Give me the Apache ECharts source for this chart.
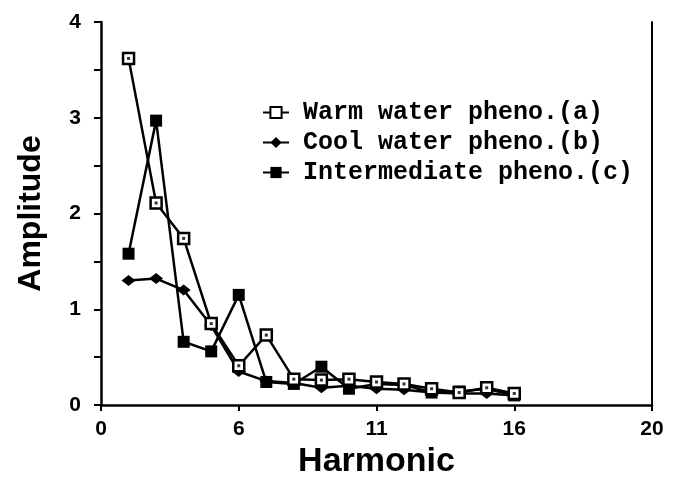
<!DOCTYPE html>
<html>
<head>
<meta charset="utf-8">
<script src="https://cdn.jsdelivr.net/npm/echarts@6/dist/echarts.min.js"></script>
<style>
html,body{margin:0;padding:0;background:#fff;}
#chart{width:685px;height:478px;}
</style>
</head>
<body>
<div id="chart"></div>
<script>
// harmonic positions on the axis
const harmonics = [1, 2, 3, 4, 5, 6, 7, 8, 9, 10, 11, 12, 13, 14, 15]
const warmWater = [3.62, 2.11, 1.74, 0.85, 0.41, 0.73, 0.27, 0.26, 0.27, 0.24, 0.22, 0.17, 0.13, 0.18, 0.12]
const coolWater = [1.30, 1.32, 1.20, 0.83, 0.35, 0.25, 0.23, 0.18, 0.20, 0.17, 0.16, 0.13, 0.12, 0.12, 0.10]
const intermediate = [1.58, 2.97, 0.66, 0.56, 1.15, 0.24, 0.22, 0.40, 0.17, 0.22, 0.21, 0.13, 0.14, 0.17, 0.10]
const seriesNames = ['Warm water pheno.(a)', 'Cool water pheno.(b)', 'Intermediate pheno.(c)']
const xTickLabels = ['0', '6', '11', '16', '20']
const yTickLabels = ['0', '1', '2', '3', '4']

function pairs(vals){
	return harmonics.map((h, i) => [h, vals[i]])
}

let chartObj = echarts.init(document.getElementById('chart'))

const lineBase = {
	type: 'line',
	lineStyle: { color: '#000', width: 2.5 },
	z: 2
}

let option = {
	animation: false,
	textStyle: { fontFamily: 'Liberation Sans' },
	grid: { left: 101, right: 33, top: 22, bottom: 73, outerBoundsMode: 'none', containLabel: false },
	legend: {
		orient: 'vertical',
		left: 257,
		top: 95,
		itemWidth: 26,
		itemHeight: 14,
		itemGap: 5,
		textStyle: {
			fontFamily: 'Liberation Mono',
			fontWeight: 'bold',
			fontSize: 25,
			lineHeight: 25,
			color: '#000',
			padding: [0, 0, 0, 9]
		},
		data: seriesNames
	},
	xAxis: {
		type: 'value',
		min: 0,
		max: 20,
		interval: 5,
		name: 'Harmonic',
		nameLocation: 'middle',
		nameGap: 34,
		nameTextStyle: { fontSize: 34, fontWeight: 'bold', color: '#000' },
		axisLine: { lineStyle: { color: '#000', width: 2.5 } },
		axisTick: { length: 6, lineStyle: { color: '#000', width: 2 } },
		axisLabel: {
			color: '#000', fontSize: 21, fontWeight: 'bold', margin: 14,
			formatter: v => xTickLabels[Math.round(v / 5)]
		},
		splitLine: { show: false }
	},
	yAxis: [{
		type: 'value',
		min: 0,
		max: 4,
		interval: 0.5,
		name: 'Amplitude',
		nameLocation: 'middle',
		nameGap: 54,
		nameRotate: 90,
		nameTextStyle: { fontSize: 32, fontWeight: 'bold', color: '#000' },
		axisLine: { show: true, lineStyle: { color: '#000', width: 2.5 } },
		axisTick: { length: 7, lineStyle: { color: '#000', width: 2 } },
		axisLabel: {
			color: '#000', fontSize: 21, fontWeight: 'bold', margin: 20,
			formatter: v => (Number.isInteger(v) ? yTickLabels[v] : '')
		},
		splitLine: { show: false }
	}, {
		// right frame line
		type: 'value',
		position: 'right',
		min: 0,
		max: 4,
		axisLine: { show: true, lineStyle: { color: '#000', width: 2 } },
		axisTick: { show: false },
		axisLabel: { show: false },
		splitLine: { show: false }
	}],
	series: [
		Object.assign({}, lineBase, {
			name: seriesNames[0],
			data: pairs(warmWater),
			symbol: 'rect',
			symbolSize: 11,
			itemStyle: { color: '#fff', borderColor: '#000', borderWidth: 2.5 },
			z: 3
		}),
		Object.assign({}, lineBase, {
			name: seriesNames[1],
			data: pairs(coolWater),
			symbol: 'diamond',
			symbolSize: [14, 11],
			itemStyle: { color: '#000' }
		}),
		Object.assign({}, lineBase, {
			name: seriesNames[2],
			data: pairs(intermediate),
			symbol: 'rect',
			symbolSize: 12,
			itemStyle: { color: '#000' }
		}),
		{
			// centre dot of the open squares
			type: 'scatter',
			data: pairs(warmWater),
			symbol: 'rect',
			symbolSize: 3,
			itemStyle: { color: '#000' },
			z: 4,
			silent: true
		}
	]
}
option && chartObj.setOption(option)
</script>
</body>
</html>
